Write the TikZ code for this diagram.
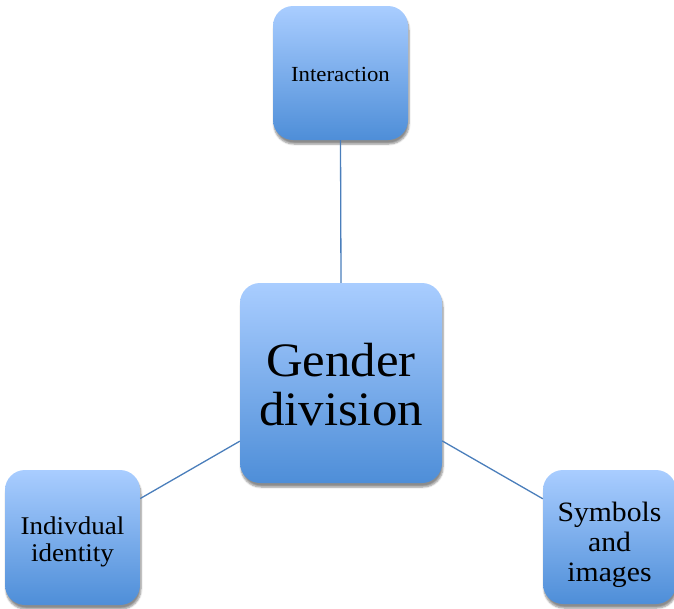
\documentclass[tikz,border=0pt]{standalone}
\usepackage{fontspec}
\setmainfont[FakeStretch=1.06]{Liberation Serif}
\usetikzlibrary{shadows.blur}
\definecolor{boxtop}{RGB}{169,205,255}
\definecolor{boxbot}{RGB}{78,142,216}
\definecolor{linkblue}{RGB}{74,126,187}
\tikzset{
  topicbox/.style={rectangle, rounded corners=20pt, top color=boxtop, bottom color=boxbot,
    draw=none, inner sep=0pt,
    blur shadow={shadow xshift=1pt, shadow yshift=-4pt, shadow blur steps=6, shadow opacity=45}},
  topictext/.style={align=center, inner sep=0pt},
  link/.style={draw=linkblue, line width=1.3pt}
}
\begin{document}
\begin{tikzpicture}[x=1pt, y=-1pt]
  \useasboundingbox (0,0) rectangle (674,608);
  \begin{scope}
  \clip (0,0) rectangle (674,608);
  % boxes
  \node[topicbox, minimum width=135pt, minimum height=134pt] (inter) at (340.5,73) {};
  \node[topicbox, minimum width=202pt, minimum height=200pt] (gender) at (341,383) {};
  \node[topicbox, minimum width=135pt, minimum height=135pt] (indiv) at (72.5,537.5) {};
  \node[topicbox, minimum width=133pt, minimum height=134pt] (symb) at (609.5,537) {};
  % connectors
  \draw[link] (inter.south) -- (gender.north);
  \draw[link] (gender) -- (indiv);
  \draw[link] (gender) -- (symb);
  % labels
  \node[topictext, font=\fontsize{21.5}{25}\selectfont] (inter-t) at ([yshift=-1pt]inter.center) {Interaction};
  \node[topictext, font=\fontsize{48}{49}\selectfont] (gender-t) at ([yshift=-2pt]gender.center) {Gender\\division};
  \node[topictext, font=\fontsize{25.5}{27}\selectfont] (indiv-t) at ([yshift=-4pt]indiv.center) {Indivdual\\identity};
  \node[topictext, font=\fontsize{28}{30}\selectfont] (symb-t) at ([yshift=-8pt]symb.center) {Symbols\\and\\images};
  \end{scope}
\end{tikzpicture}
\end{document}
